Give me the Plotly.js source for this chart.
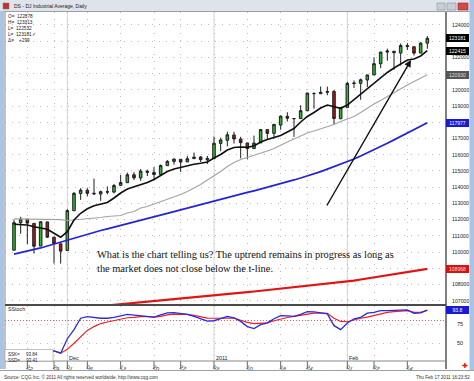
<!DOCTYPE html>
<html><head><meta charset="utf-8">
<script src="https://cdn.plot.ly/plotly-3.0.1.min.js"></script>
<style>html,body{margin:0;padding:0;background:#fff;overflow:hidden}#chart{width:474px;height:381px}</style>
</head><body><div id="chart"></div>
<script>
const dates = ['2010-11-18','2010-11-19','2010-11-22','2010-11-23','2010-11-24','2010-11-26','2010-11-29','2010-11-30',
'2010-12-01','2010-12-02','2010-12-03','2010-12-06','2010-12-07','2010-12-08','2010-12-09','2010-12-10','2010-12-13','2010-12-14','2010-12-15','2010-12-16','2010-12-17','2010-12-20','2010-12-21','2010-12-22','2010-12-23','2010-12-27','2010-12-28','2010-12-29','2010-12-30','2010-12-31',
'2011-01-03','2011-01-04','2011-01-05','2011-01-06','2011-01-07','2011-01-10','2011-01-11','2011-01-12','2011-01-13','2011-01-14','2011-01-18','2011-01-19','2011-01-20','2011-01-21','2011-01-24','2011-01-25','2011-01-26','2011-01-27','2011-01-28','2011-01-31',
'2011-02-01','2011-02-02','2011-02-03','2011-02-04','2011-02-07','2011-02-08','2011-02-09','2011-02-10','2011-02-11','2011-02-14','2011-02-15','2011-02-16','2011-02-17'];
const openP  = [110116,111812,112030,111770,110370,111860,110920,110510,110100,112550,113610,113810,113630,113580,113720,113700,114110,114280,114770,114570,114990,114910,114790,115330,115590,115720,115560,115760,115860,115690,115770,116700,116890,117220,116970,116730,116380,116730,117550,117320,117830,118370,118230,118230,118710,119770,119760,119850,119900,118220,118920,120390,120400,120610,120920,121610,122330,122380,122270,122730,122660,122270,122878];
const highP  = [112000,112180,112040,111770,111873,111860,110920,110510,112640,113700,113940,113940,114530,113790,114050,114200,114760,114900,114930,115120,115080,115240,115400,115670,115770,115730,115930,116140,115920,115930,117120,117050,117420,117420,117110,116730,117180,117570,117570,117870,118430,118620,118230,119050,119820,119850,120210,120200,119990,118920,120500,120580,120700,120920,122010,122340,122540,122410,122860,122890,122680,122950,123313];
const lowP   = [110116,111130,110480,109910,110370,110870,109290,109290,110100,112540,113220,113430,113530,113160,113560,113620,114070,114280,114440,114390,114690,114510,114790,115320,115390,114940,115560,115760,115550,115430,115770,116220,116520,116690,115780,115730,116380,116730,116940,116990,117540,118050,117100,118230,118710,118840,119750,119670,117860,118220,118920,120120,119390,120180,120920,121340,121800,121240,121500,122460,122120,122270,122532];
const closeP = [111812,112036,111786,110364,111873,110920,110525,110060,112558,113624,113821,113622,113592,113725,113701,114103,114286,114765,114575,114993,114919,114781,115332,115595,115735,115550,115755,115854,115697,115775,116708,116912,117229,116973,116748,116375,116719,117554,117319,117874,118379,118253,118228,118718,119805,119772,119854,119898,118237,118919,120402,120420,120623,120922,121616,122332,122399,122293,122733,122682,122266,122882,123181];
const maFast = [111713,111670,111670,111565,111467,111405,111158,110912,111257,111978,112391,112669,112860,112946,113057,113335,113643,113889,114013,114136,114290,114475,114722,114968,115122,115227,115338,115412,115474,115554,115801,116016,116294,116448,116479,116460,116540,116787,116941,117064,117188,117403,117619,118020,118359,118606,118883,119068,118988,118865,119068,119407,119746,120036,120394,120763,121072,121349,121596,121842,121904,122089,122415];
const maMid  = [112043,112043,112043,112043,112043,112043,112043,112000,111948,111978,112009,112040,112083,112132,112194,112225,112256,112410,112502,112718,112810,112965,113106,113273,113396,113550,113735,113951,114167,114444,114691,114968,115277,115523,115708,115832,115955,116078,116232,116386,116602,116787,116972,117157,117342,117465,117588,117712,117866,118051,118205,118359,118606,118883,119130,119345,119592,119808,120054,120301,120517,120733,120930];
const maSlow = [109882,109968,110055,110141,110252,110375,110498,110634,110757,110881,110992,111103,111214,111331,111436,111547,111651,111756,111861,111966,112071,112176,112281,112391,112502,112607,112718,112823,112934,113039,113150,113255,113359,113464,113569,113674,113779,113883,113988,114093,114198,114321,114445,114568,114691,114815,114962,115110,115258,115406,115554,115739,115924,116109,116294,116509,116713,116916,117120,117323,117527,117755,117977];
const maLong = [106171,106214,106251,106288,106325,106362,106405,106442,106479,106516,106553,106596,106633,106670,106707,106744,106788,106825,106862,106899,106936,106979,107016,107053,107090,107127,107170,107207,107244,107281,107318,107362,107398,107441,107485,107528,107571,107614,107657,107700,107744,107787,107830,107873,107916,107959,108002,108045,108088,108132,108181,108243,108310,108372,108440,108502,108563,108631,108693,108754,108822,108884,108968];
const ssk = [null,null,null,null,null,39,40,37,56,68,83,85,83.6,83,83,84,86,88,87,86,85.5,84.5,87.5,90,90.4,89.4,88,85.5,82.3,79.3,79.7,83,85.3,83.6,78.8,72,69.3,74.5,77,82.3,86.5,86,85.5,88,91.7,91.3,90.4,88.7,73.2,68,76.7,82.3,84.2,89.6,90.7,93,93,93,93.5,93.9,89.6,90,93.84];
const ssd = [null,null,null,null,null,39,40,37,42,50,58,67,72,76,78,80,82,83.6,84,85,85,84.5,85.5,87.5,88.4,88.4,88,86.8,85,83.2,83,83.2,83.2,83.2,80.3,77.5,75.8,76.5,77,79.7,82,84,85.5,86.8,89,89.6,89.6,89.4,83,78.8,78.4,81,83,84.5,86.8,88.7,90.7,91.7,92.6,93,90.7,90.7,93.41];
const tickDates  = ['2010-11-22','2010-11-29','2010-12-01','2010-12-06','2010-12-13','2010-12-20','2010-12-27','2011-01-03','2011-01-10','2011-01-18','2011-01-24','2011-02-01','2011-02-07','2011-02-14'];
const tickLabels = ['22','29','01','06','13','20','27','03','10','18','24','01','07','14'];
const monthDates  = ['2010-12-01','2011-01-03','2011-02-01'];
const monthLabels = ['Dec','2011','Feb'];
const priceTicks = [107000,108000,109000,110000,111000,112000,113000,114000,115000,116000,117000,118000,119000,120000,121000,122000,123000,124000];
const stochTicks = [50,75];
const stochLevel = 80;
const legendText = ['O=  122878','H=  123313','L=  122532','L=  123181\u2713','\u0394=    +299'];
const noteText = 'What is the chart telling us? The uptrend remains in progress as long as<br>the market does not close below the t-line.';

const W = 474, H = 381;
const px = x => x / W, py = y => 1 - y / H;
const last = a => a[a.length - 1];
const UI = 'Liberation Sans, Arial, sans-serif';

const boxValues = [last(closeP), last(maFast), last(maMid), last(maSlow), last(maLong)];
const priceTickText = priceTicks.map(t => boxValues.some(b => Math.abs(b - t) < 330) ? '' : String(t));

const traces = [
  {type:'candlestick', x:dates, open:openP, high:highP, low:lowP, close:closeP, xaxis:'x', yaxis:'y',
   increasing:{line:{color:'#1e1e1e', width:1}, fillcolor:'#2fb52f'},
   decreasing:{line:{color:'#1e1e1e', width:1}, fillcolor:'#a8181c'},
   whiskerwidth:0, hoverinfo:'skip', showlegend:false},
  {type:'scatter', mode:'lines', x:dates, y:maLong, xaxis:'x', yaxis:'y', line:{color:'#e01414', width:2.2}, hoverinfo:'skip', showlegend:false},
  {type:'scatter', mode:'lines', x:dates, y:maSlow, xaxis:'x', yaxis:'y', line:{color:'#2424d4', width:1.8}, hoverinfo:'skip', showlegend:false},
  {type:'scatter', mode:'lines', x:dates, y:maMid, xaxis:'x', yaxis:'y', line:{color:'#a4a4a4', width:1.2}, hoverinfo:'skip', showlegend:false},
  {type:'scatter', mode:'lines', x:dates, y:maFast, xaxis:'x', yaxis:'y', line:{color:'#101010', width:1.6}, hoverinfo:'skip', showlegend:false},
  {type:'scatter', mode:'lines', x:dates, y:ssd, xaxis:'x', yaxis:'y2', line:{color:'#ee2020', width:1.2}, hoverinfo:'skip', showlegend:false},
  {type:'scatter', mode:'lines', x:dates, y:ssk, xaxis:'x', yaxis:'y2', line:{color:'#2a2ae0', width:1.3}, hoverinfo:'skip', showlegend:false}
];

const gridCol = '#bdbdbd';
const layout = {
  width:W, height:H, margin:{l:0,r:0,t:0,b:0}, paper_bgcolor:'#ffffff', plot_bgcolor:'#ffffff',
  showlegend:false, boxgap:0.45, dragmode:false,
  xaxis:{type:'category', domain:[px(5), px(446)], range:[-1.35, 64.8], anchor:'y2',
    tickvals:tickDates, ticktext:tickLabels, ticks:'', ticklabelposition:'outside right', ticklabelstandoff:1,
    tickfont:{family:UI, size:5.6, color:'#222'},
    showgrid:true, gridcolor:gridCol, griddash:'1px,6px', gridwidth:1, zeroline:false, showline:false,
    rangeslider:{visible:false}, fixedrange:true},
  yaxis:{domain:[py(304), py(12)], range:[106800, 124801], side:'right', anchor:'x',
    tickvals:priceTicks, ticktext:priceTickText, ticks:'', ticklabelstandoff:5,
    tickfont:{family:UI, size:5.2, color:'#222'}, showgrid:true, gridcolor:gridCol, griddash:'1px,6px',
    zeroline:false, showline:false, fixedrange:true},
  yaxis2:{domain:[py(361), py(306)], range:[26.7, 99.1], side:'right', anchor:'x',
    tickvals:stochTicks, ticktext:stochTicks.map(String), ticks:'', ticklabelstandoff:10,
    tickfont:{family:UI, size:5.5, color:'#222'}, showgrid:true, gridcolor:gridCol, griddash:'1px,6px',
    zeroline:false, showline:false, fixedrange:true},
  shapes:[], annotations:[]
};

const S = layout.shapes, A = layout.annotations;
monthDates.forEach(d => S.push({type:'line', xref:'x', yref:'paper', x0:d, x1:d, y0:py(361), y1:py(12), line:{color:'#d6d6d6', width:1}, layer:'below'}));
tickDates.forEach(d => S.push({type:'line', xref:'x', yref:'paper', x0:d, x1:d, y0:py(369), y1:py(361), line:{color:'#666', width:1}}));
S.push({type:'line', xref:'paper', yref:'y2', x0:px(5), x1:px(446), y0:stochLevel, y1:stochLevel, line:{color:'#e06060', width:1, dash:'1px,2px'}, layer:'below'});
S.push({type:'rect', xref:'paper', yref:'paper', x0:0, x1:1, y0:py(11), y1:1, fillcolor:'#dfe3ea', line:{width:0}});
S.push({type:'line', xref:'paper', yref:'paper', x0:0, x1:1, y0:py(11.5), y1:py(11.5), line:{color:'#9aa0a8', width:1}});
S.push({type:'rect', xref:'paper', yref:'paper', x0:0, x1:px(4), y0:py(369), y1:py(11), fillcolor:'#a9c4e4', line:{width:0}});
S.push({type:'rect', xref:'paper', yref:'paper', x0:px(469.5), x1:1, y0:py(371), y1:1, fillcolor:'#a9c4e4', line:{width:0}});
S.push({type:'line', xref:'paper', yref:'paper', x0:px(5), x1:px(5), y0:py(369), y1:py(12), line:{color:'#888', width:1}});
S.push({type:'line', xref:'paper', yref:'paper', x0:px(446), x1:px(446), y0:py(369), y1:py(12), line:{color:'#555', width:1.5}});
S.push({type:'line', xref:'paper', yref:'paper', x0:px(5), x1:px(446), y0:py(305), y1:py(305), line:{color:'#4a4a4a', width:2}});
S.push({type:'line', xref:'paper', yref:'paper', x0:px(5), x1:px(446), y0:py(361), y1:py(361), line:{color:'#888', width:1}});
S.push({type:'line', xref:'paper', yref:'paper', x0:0, x1:1, y0:py(370.5), y1:py(370.5), line:{color:'#9aa0a8', width:1}});
S.push({type:'rect', xref:'paper', yref:'paper', x0:px(437), x1:px(445), y0:py(10), y1:py(3), fillcolor:'#c9ced6', line:{color:'#8c939c', width:0.6}});
S.push({type:'rect', xref:'paper', yref:'paper', x0:px(447), x1:px(456), y0:py(10), y1:py(3), fillcolor:'#c9ced6', line:{color:'#8c939c', width:0.6}});
S.push({type:'rect', xref:'paper', yref:'paper', x0:px(458), x1:px(468), y0:py(10), y1:py(3), fillcolor:'#d24b4b', line:{color:'#9a2a2a', width:0.6}});
S.push({type:'rect', xref:'paper', yref:'paper', x0:px(3), x1:px(9), y0:py(9), y1:py(3), fillcolor:'#c83030', line:{color:'#777', width:0.5}});
S.push({type:'rect', xref:'paper', yref:'paper', x0:px(5), x1:px(53), y0:py(361), y1:py(349.5), fillcolor:'#ffffff', line:{color:'#999', width:0.6}});

A.push({xref:'paper', yref:'paper', x:px(12), y:py(6), xanchor:'left', yanchor:'middle', showarrow:false, text:'DS - DJ Industrial Average, Daily', font:{family:UI, size:5, color:'#222'}});
A.push({xref:'paper', yref:'paper', x:px(6), y:py(12.5), xanchor:'left', yanchor:'top', align:'left', showarrow:false, text:legendText.join('<br>'), font:{family:UI, size:4.7, color:'#222'}});
A.push({xref:'paper', yref:'paper', x:px(6), y:py(308.5), xanchor:'left', yanchor:'middle', showarrow:false, text:'SStoch', font:{family:UI, size:5.3, color:'#222'}});
A.push({xref:'paper', yref:'paper', x:px(6), y:py(350), xanchor:'left', yanchor:'top', align:'left', showarrow:false,
  text:'SSK=     ' + last(ssk).toFixed(2) + '<br>SSD=     ' + last(ssd).toFixed(2), font:{family:UI, size:4.5, color:'#222'}});
monthDates.forEach((d, k) => A.push({xref:'x', yref:'paper', x:d, y:py(357.5), xanchor:'left', yanchor:'middle', xshift:0, showarrow:false, text:monthLabels[k], font:{family:UI, size:5.4, color:'#222'}}));
A.push({xref:'paper', yref:'paper', x:px(95), y:py(247), xanchor:'left', yanchor:'top', align:'left', showarrow:false, text:noteText, font:{family:'Liberation Serif, Times New Roman, serif', size:10.4, color:'#111'}});
A.push({xref:'paper', yref:'paper', x:px(411), y:py(60), ax:-85, ay:147, showarrow:true, arrowhead:2, arrowsize:1, arrowwidth:1.4, arrowcolor:'#111', text:''});
A.push({xref:'paper', yref:'paper', x:px(2), y:py(376.5), xanchor:'left', yanchor:'middle', showarrow:false, text:'Source: CQG Inc. \u00a9 2011 All rights reserved worldwide. http://www.cqg.com', font:{family:UI, size:4.6, color:'#333'}});
A.push({xref:'paper', yref:'paper', x:px(472), y:py(377), xanchor:'right', yanchor:'middle', showarrow:false, text:'Thu Feb 17 2011 16:23:52', font:{family:UI, size:4.6, color:'#333'}});
A.push({xref:'paper', yref:'paper', x:px(465), y:py(365.5), xanchor:'center', yanchor:'middle', showarrow:false, text:'\u271a', font:{family:'DejaVu Sans', size:7, color:'#e01010'}});

function valueBox(v, yref, bg, fg, txt) {
  A.push({xref:'paper', yref:yref, x:px(457.5), y:v, xanchor:'center', yanchor:'middle', showarrow:false,
    text:txt, bgcolor:bg, bordercolor:bg, borderpad:0, width:21, height:6, font:{family:UI, size:5, color:fg}});
}
valueBox(last(closeP), 'y', '#000000', '#ffffff', String(last(closeP)));
valueBox(last(maFast), 'y', '#000000', '#ffffff', String(last(maFast)));
valueBox(last(maMid), 'y', '#555555', '#dddddd', String(last(maMid)));
valueBox(last(maSlow), 'y', '#1a1ad0', '#ffffff', String(last(maSlow)));
valueBox(last(maLong), 'y', '#d41414', '#ffdddd', String(last(maLong)));
valueBox(last(ssk), 'y2', '#1a1ad0', '#ffffff', last(ssk).toFixed(1));

Plotly.newPlot('chart', traces, layout, {staticPlot:true, displayModeBar:false});
</script></body></html>
